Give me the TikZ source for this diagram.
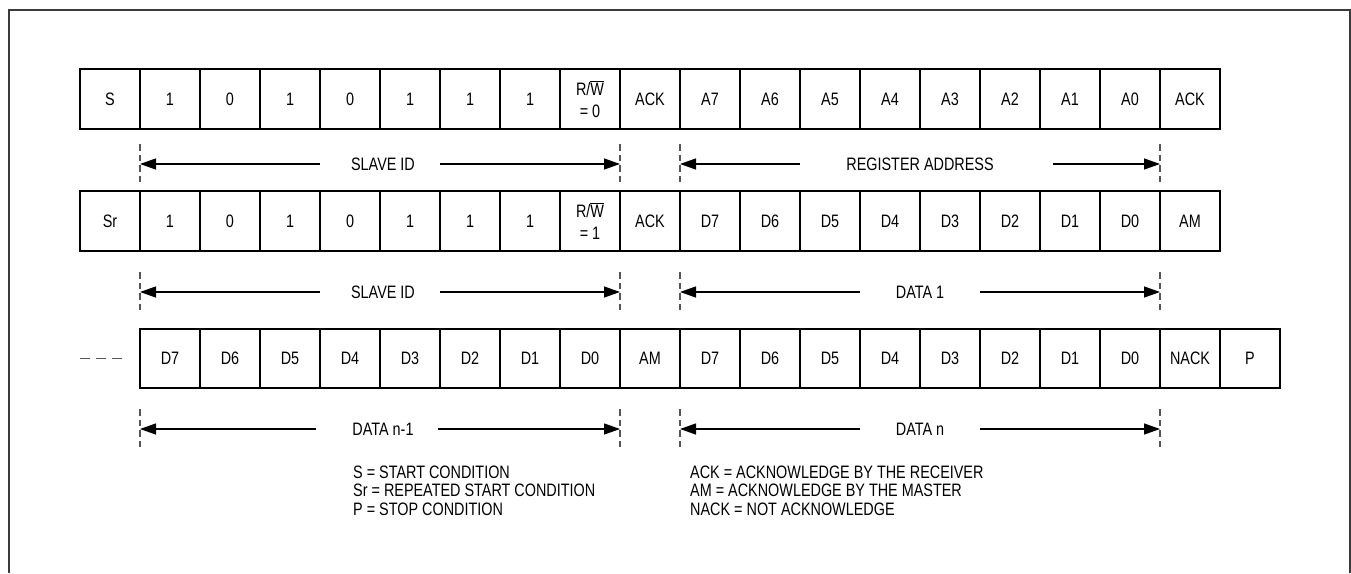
\documentclass[tikz,border=0pt]{standalone}
\usepackage{fontspec}
\setmainfont[FakeStretch=0.8]{Liberation Sans}
\usetikzlibrary{arrows.meta}
\definecolor{framegray}{HTML}{3A3A3A}
\definecolor{dashgray}{HTML}{555555}
\newcommand\RWzero{R/$\overline{\hbox{W}}$\\= 0}
\newcommand\RWone{R/$\overline{\hbox{W}}$\\= 1}
\begin{document}
\begin{tikzpicture}[x=1pt,y=-1pt,
  txt/.style={font=\fontsize{18}{22}\selectfont,inner sep=0pt},
  cell/.style={txt,draw=black,line width=1.3pt,minimum width=60pt,minimum height=60pt,align=center},
  marker/.style={draw=dashgray,line width=1.4pt,dash pattern=on 6.5pt off 4pt},
  dimarrow/.style={draw=black,line width=1.3pt,-{Triangle[length=16pt,width=11pt]}},
  dimline/.style={draw=black,line width=1.3pt}]
\useasboundingbox (0,0) rectangle (1351,573);
% frame
\draw[framegray,line width=2.5pt] (9,573) -- (9,10) -- (1350,10) -- (1350,573);
% row 1
\foreach \t [count=\i from 0] in {S,1,0,1,0,1,1,1,\RWzero,ACK,A7,A6,A5,A4,A3,A2,A1,A0,ACK}
  \node[cell] (a\i) at (110+60*\i,99) {\t};
% row 2
\foreach \t [count=\i from 0] in {Sr,1,0,1,0,1,1,1,\RWone,ACK,D7,D6,D5,D4,D3,D2,D1,D0,AM}
  \node[cell] (b\i) at (110+60*\i,221) {\t};
% row 3
\foreach \t [count=\i from 1] in {D7,D6,D5,D4,D3,D2,D1,D0,AM,D7,D6,D5,D4,D3,D2,D1,D0,NACK,P}
  \node[cell,minimum height=59pt] (c\i) at (110+60*\i,358.5) {\t};
\coordinate (cont) at (80,358.5);
\coordinate (contend) at (125,358.5);
\draw[dashgray,line width=1.2pt,dash pattern=on 9.5pt off 6.5pt] (cont) -- (contend);
% dimension markers
\foreach \r/\y in {1/164,2/292,3/429}{
  \foreach \m/\x in {a/140,b/620,c/680,d/1160}{
    \coordinate (m\r\m) at (\x,\y);
    \coordinate (m\r\m t) at (\x,\y-20);
    \coordinate (m\r\m b) at (\x,\y+20);
    \draw[marker] (m\r\m t) -- (m\r\m b);
  }
}
% dimension labels
\node[txt] (l1a) at (383,164) {SLAVE ID};
\node[txt] (l1b) at (920,164) {REGISTER ADDRESS};
\node[txt] (l2a) at (383,292) {SLAVE ID};
\node[txt] (l2b) at (920,292) {DATA 1};
\node[txt] (l3a) at (383,429) {DATA n-1};
\node[txt] (l3b) at (920,429) {DATA n};
% arrow line starts
\coordinate (s1a) at (320,164); \coordinate (e1a) at (440,164);
\coordinate (s1b) at (800,164); \coordinate (e1b) at (1053,164);
\coordinate (s2a) at (320,292); \coordinate (e2a) at (440,292);
\coordinate (s2b) at (860,292); \coordinate (e2b) at (980,292);
\coordinate (s3a) at (316,429); \coordinate (e3a) at (438,429);
\coordinate (s3b) at (860,429); \coordinate (e3b) at (980,429);
\foreach \r in {1,2,3}{
  \draw[dimarrow] (s\r a) -- (m\r a);
  \draw[dimarrow] (e\r a) -- (m\r b);
  \draw[dimarrow] (s\r b) -- (m\r c);
  \draw[dimarrow] (e\r b) -- (m\r d);
}
% legend
\node[txt,anchor=north west,align=left,font=\fontsize{18}{18.5}\selectfont] (leg1) at (353,465.5)
  {S = START CONDITION\\Sr = REPEATED START CONDITION\\P = STOP CONDITION};
\node[txt,anchor=north west,align=left,font=\fontsize{18}{18.5}\selectfont] (leg2) at (690,465.5)
  {ACK = ACKNOWLEDGE BY THE RECEIVER\\AM = ACKNOWLEDGE BY THE MASTER\\NACK = NOT ACKNOWLEDGE};
\end{tikzpicture}
\end{document}
